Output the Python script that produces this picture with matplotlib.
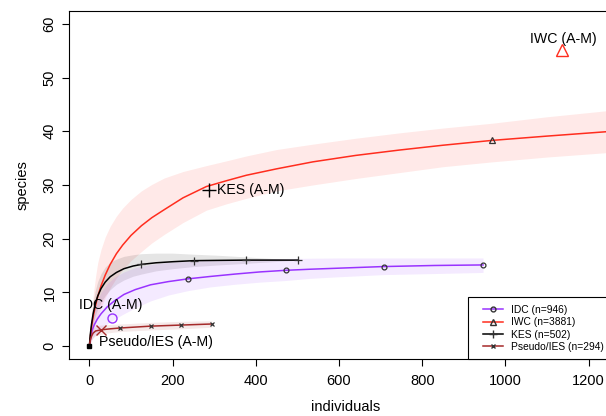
import numpy as np
import matplotlib
matplotlib.use("Agg")
import matplotlib.pyplot as plt
from matplotlib.patches import Rectangle

plt.rcParams["font.family"] = ["Liberation Sans", "DejaVu Sans"]

# IWC (n=3881) rarefaction curve
iwc_x = [0, 3, 6, 10, 15, 20, 28, 38, 50, 65, 80, 100, 125, 150, 180, 225, 281, 330, 377, 450, 537, 640,
         745, 850, 968, 1100, 1240, 1300]
iwc_y = [0, 2.2, 4.0, 5.8, 7.6, 9.2, 11.2, 13.2, 15.2, 17.2, 18.8, 20.6, 22.4, 23.9, 25.4, 27.6, 29.7, 30.8,
         31.8, 33.0, 34.3, 35.5, 36.5, 37.4, 38.3, 39.1, 39.9, 40.2]
iwc_hi = [0, 4.0, 7.0, 10.0, 13.0, 15.5, 18.0, 20.3, 22.3, 24.2, 25.7, 27.3, 28.9, 30.1, 31.3, 32.5, 33.6,
          34.5, 35.4, 36.6, 37.6, 38.7, 39.7, 40.6, 41.5, 42.7, 43.8, 44.2]
iwc_lo = [0, 0.8, 1.8, 3.0, 4.3, 5.5, 7.2, 9.0, 10.8, 12.7, 14.2, 15.9, 17.6, 19.2, 20.8, 23.0, 25.3, 26.5,
          27.5, 28.9, 30.0, 31.2, 32.3, 33.4, 34.3, 35.2, 36.0, 36.3]

# IDC (n=946)
idc_x = [0, 3, 7, 12, 19, 28, 43, 60, 83, 110, 147, 190, 236, 290, 350, 410, 472, 530, 600, 707, 830, 946]
idc_y = [0, 1.6, 3.0, 4.0, 5.0, 6.0, 7.3, 8.4, 9.6, 10.5, 11.4, 12.0, 12.5, 12.95, 13.4, 13.8, 14.1, 14.3,
         14.5, 14.8, 15.0, 15.1]
idc_hi = [0, 3.0, 5.5, 7.0, 8.5, 10.0, 11.6, 12.8, 13.8, 14.6, 15.2, 15.6, 15.8, 16.0, 16.1, 16.2, 16.3, 16.35,
          16.4, 16.4, 16.4, 16.4]
idc_lo = [0, 0.6, 1.3, 1.9, 2.5, 3.2, 4.1, 5.0, 6.0, 7.1, 8.4, 9.5, 10.3, 11.0, 11.5, 11.9, 12.2, 12.6,
          12.9, 13.3, 13.5, 13.7]

# KES (n=502)
kes_x = [0, 2, 5, 9, 14, 20, 28, 38, 50, 65, 83, 105, 125, 160, 200, 251, 310, 376, 440, 502]
kes_y = [0, 2.0, 4.0, 6.0, 7.8, 9.3, 10.7, 11.9, 12.9, 13.7, 14.4, 14.9, 15.2, 15.5, 15.7, 15.9, 15.95, 16.0,
         16.0, 16.0]
kes_hi = [0, 3.0, 5.8, 8.2, 10.3, 12.0, 13.5, 14.7, 15.6, 16.2, 16.7, 17.0, 17.2, 17.3, 17.3, 17.1, 16.9, 16.6,
          16.3, 16.0]
kes_lo = [0, 1.2, 2.6, 4.2, 5.6, 6.9, 8.2, 9.4, 10.5, 11.5, 12.3, 13.0, 13.4, 14.0, 14.4, 14.8, 15.1, 15.4,
          15.7, 16.0]

# Pseudo/IES (n=294)
pse_x = [0, 2, 5, 9, 15, 27, 50, 73, 147, 220, 294]
pse_y = [0, 1.0, 1.8, 2.4, 2.8, 3.0, 3.2, 3.35, 3.7, 3.9, 4.1]
pse_hi = [0, 1.6, 2.6, 3.3, 3.7, 3.9, 4.0, 4.1, 4.4, 4.6, 4.7]
pse_lo = [0, 0.5, 1.1, 1.6, 1.9, 2.2, 2.5, 2.7, 3.0, 3.2, 3.5]

# quartile markers on each curve
idc_mx = [236, 472, 707, 946]
idc_my = [12.5, 14.1, 14.8, 15.1]
iwc_mx = [968]
iwc_my = [38.3]
kes_mx = [125, 251, 376, 502]
kes_my = [15.2, 15.9, 16.0, 16.0]
pse_mx = [73, 147, 220, 294]
pse_my = [3.35, 3.7, 3.9, 4.1]

# observed A-M points
am_labels = ["IDC (A-M)", "IWC (A-M)", "KES (A-M)", "Pseudo/IES (A-M)"]
am_x = [55, 1135, 287, 27]
am_y = [5.2, 55.2, 29.1, 3.0]

legend_labels = ["IDC (n=946)", "IWC (n=3881)", "KES (n=502)", "Pseudo/IES (n=294)"]

c_idc = "#9933FF"
c_iwc = "#FF2D1E"
c_kes = "#000000"
c_pse = "#A52A2A"

fig = plt.figure(figsize=(6.06, 4.16), dpi=100)
ax = fig.add_axes([69 / 606, 57 / 416, 553 / 606, 348 / 416])

# confidence bands
ax.fill_between(iwc_x, iwc_lo, iwc_hi, color=c_iwc, alpha=0.1, lw=0)
ax.fill_between(kes_x, kes_lo, kes_hi, color=c_kes, alpha=0.1, lw=0)
ax.fill_between(idc_x, idc_lo, idc_hi, color=c_idc, alpha=0.1, lw=0)
ax.fill_between(pse_x, pse_lo, pse_hi, color=c_pse, alpha=0.1, lw=0)

lw = 1.1
ax.plot(idc_x, idc_y, color=c_idc, lw=lw)
ax.plot(iwc_x, iwc_y, color=c_iwc, lw=lw)
ax.plot(kes_x, kes_y, color=c_kes, lw=lw)
ax.plot(pse_x, pse_y, color=c_pse, lw=lw)

mk_edge = "#333333"
ax.plot(idc_mx, idc_my, ls="none", marker="o", ms=3.5, mfc="none", mec=mk_edge, mew=0.9)
ax.plot(iwc_mx, iwc_my, ls="none", marker="^", ms=3.8, mfc="none", mec=mk_edge, mew=0.9)
ax.plot(kes_mx, kes_my, ls="none", marker="+", ms=6, mec=mk_edge, mew=0.9)
ax.plot(pse_mx, pse_my, ls="none", marker="x", ms=3.5, mec=mk_edge, mew=0.9)

# origin point
ax.plot([0], [0], ls="none", marker="s", ms=3.5, color="black")

# A-M observed points with labels
ax.plot(am_x[0], am_y[0], ls="none", marker="o", ms=6.5, mfc="none", mec=c_idc, mew=1.0)
ax.plot(am_x[1], am_y[1], ls="none", marker="^", ms=8, mfc="none", mec=c_iwc, mew=1.0)
ax.plot(am_x[2], am_y[2], ls="none", marker="+", ms=10, mec=c_kes, mew=1.0)
ax.plot(am_x[3], am_y[3], ls="none", marker="x", ms=6.5, mec=c_pse, mew=1.0)

tfs = 10.2
ax.annotate(am_labels[0], (am_x[0], am_y[0]), xytext=(-1, 9.4), textcoords="offset points",
            ha="center", va="center", fontsize=tfs)
ax.annotate(am_labels[1], (am_x[1], am_y[1]), xytext=(1.4, 7.9), textcoords="offset points",
            ha="center", va="center", fontsize=tfs)
ax.annotate(am_labels[2], (am_x[2], am_y[2]), xytext=(5.8, 0), textcoords="offset points",
            ha="left", va="center", fontsize=tfs)
ax.annotate(am_labels[3], (am_x[3], am_y[3]), xytext=(-1.2, -8.6), textcoords="offset points",
            ha="left", va="center", fontsize=tfs)

ax.set_xlim(-49, 1280)
ax.set_ylim(-2.42, 62.4)
ax.set_xticks([0, 200, 400, 600, 800, 1000, 1200])
ax.set_yticks([0, 10, 20, 30, 40, 50, 60])
ax.tick_params(direction="out", length=5, width=0.8, labelsize=10.5, pad=6)
ax.tick_params(axis="y", pad=4)
for lab in ax.get_yticklabels():
    lab.set_rotation(90)
    lab.set_va("center")
for s in ax.spines.values():
    s.set_linewidth(0.8)

ax.set_xlabel("individuals", fontsize=10.5, labelpad=8.5)
ax.set_ylabel("species", fontsize=10.5, labelpad=9)

# legend box sits on the bottom of the plot, running off the right edge
ax.add_patch(Rectangle((468 / 606, 57 / 416), 200 / 606, 62 / 416, transform=fig.transFigure,
                       facecolor="white", edgecolor="black", lw=0.8, clip_on=False, zorder=4.9))
handles = [
    plt.Line2D([], [], color=c_idc, lw=lw, marker="o", ms=3.5, mfc="none", mec=mk_edge),
    plt.Line2D([], [], color=c_iwc, lw=lw, marker="^", ms=3.8, mfc="none", mec=mk_edge),
    plt.Line2D([], [], color=c_kes, lw=lw, marker="+", ms=6, mec=mk_edge),
    plt.Line2D([], [], color=c_pse, lw=lw, marker="x", ms=3.5, mec=mk_edge),
]
leg = ax.legend(handles, legend_labels, loc="upper left",
                bbox_to_anchor=(483 / 606, (416 - 305) / 416), bbox_transform=fig.transFigure,
                borderaxespad=0, borderpad=0, fontsize=7.4, frameon=False,
                handlelength=1.95, handletextpad=0.78, labelspacing=0.22)
leg.set_zorder(5)

fig.savefig("out.png", dpi=100)
